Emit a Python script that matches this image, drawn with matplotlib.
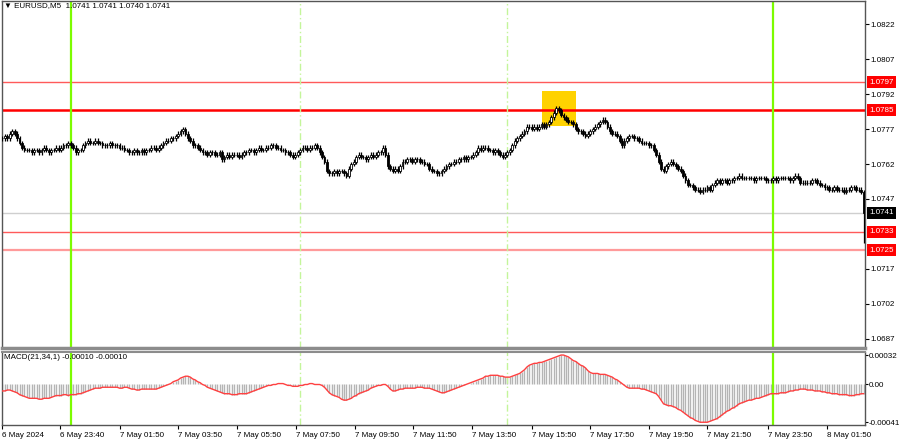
import numpy as np
import matplotlib
matplotlib.use('Agg')
import matplotlib.pyplot as plt
from matplotlib.patches import Rectangle
import matplotlib.transforms as mtransforms


# EURUSD M5 closes in pips above 1.0700, one per bar (6 May 21:40 -> 8 May 03:05)
close_pips = [
    73, 74, 73, 75, 76, 75, 73, 71, 69, 68, 68, 68, 67, 68, 68, 67, 68, 69, 68, 67, 68, 68, 69, 68,
    69, 70, 70, 71, 70, 69, 67, 68, 68, 70, 71, 72, 71, 71, 72, 71, 71, 70, 70, 70, 71, 70, 70, 70,
    69, 69, 68, 68, 67, 67, 68, 67, 67, 68, 67, 68, 68, 69, 69, 68, 69, 70, 71, 72, 72, 73, 73, 74,
    75, 76, 77, 75, 73, 72, 70, 70, 69, 68, 67, 67, 66, 67, 67, 66, 66, 67, 64, 65, 66, 65, 66, 66,
    66, 65, 66, 67, 67, 68, 68, 67, 68, 69, 68, 68, 69, 69, 70, 70, 69, 69, 68, 68, 67, 67, 66, 65,
    66, 67, 68, 69, 69, 68, 69, 69, 70, 69, 67, 65, 63, 59, 58, 58, 59, 58, 59, 59, 58, 57, 60, 62,
    63, 65, 66, 65, 65, 64, 65, 66, 65, 66, 67, 67, 69, 66, 61, 60, 59, 60, 59, 61, 63, 63, 64, 64,
    63, 64, 64, 63, 63, 62, 62, 60, 59, 59, 58, 58, 59, 60, 61, 62, 62, 63, 63, 64, 64, 65, 64, 65,
    65, 66, 67, 69, 68, 69, 69, 68, 68, 67, 68, 67, 66, 65, 66, 67, 68, 70, 72, 73, 74, 75, 76, 78,
    78, 77, 78, 77, 78, 79, 78, 79, 80, 82, 84, 86, 85, 83, 82, 81, 80, 80, 79, 77, 76, 76, 75, 74,
    75, 76, 77, 78, 79, 80, 81, 80, 78, 76, 75, 75, 74, 72, 70, 72, 73, 74, 74, 73, 73, 72, 71, 71,
    71, 70, 70, 68, 66, 63, 60, 59, 61, 62, 63, 62, 61, 60, 59, 57, 55, 53, 53, 52, 51, 51, 50, 51,
    51, 52, 51, 53, 54, 55, 54, 55, 55, 54, 55, 55, 56, 56, 57, 56, 56, 56, 56, 56, 55, 56, 56, 56,
    56, 55, 55, 55, 56, 55, 56, 56, 56, 56, 56, 55, 56, 57, 56, 54, 54, 54, 54, 54, 55, 55, 54, 53,
    53, 52, 52, 51, 51, 52, 51, 51, 51, 50, 51, 51, 52, 52, 51, 51, 50, 41,
]

# MACD(21,34,1) in units of 0.00001, one per bar
macd_e5 = [
    -7, -7, -6, -6, -7, -8, -9, -11, -12, -13, -14, -15, -15, -15, -15, -16, -16, -15, -15, -15, -14, -13, -12, -12,
    -12, -11, -11, -12, -11, -11, -11, -10, -10, -9, -8, -7, -6, -5, -4, -4, -4, -3, -3, -3, -3, -3, -3, -3,
    -4, -4, -3, -3, -4, -5, -5, -6, -6, -5, -5, -5, -5, -5, -5, -5, -4, -3, -2, -1, 0, 1, 3, 4,
    5, 7, 8, 9, 9, 8, 6, 5, 3, 2, 0, -1, -3, -4, -5, -6, -7, -8, -9, -10, -10, -10, -11, -11,
    -11, -10, -10, -10, -10, -9, -8, -7, -6, -5, -4, -3, -2, -1, -1, 0, 0, 1, 1, 1, 0, -1, -1, -2,
    -2, -2, -1, -1, 0, 0, 1, 1, 0, 0, 0, -1, -3, -6, -9, -11, -12, -13, -14, -16, -17, -17, -16, -15,
    -13, -12, -10, -9, -8, -7, -6, -4, -3, -2, -1, -1, 0, 0, -2, -5, -7, -7, -6, -5, -5, -4, -4, -4,
    -4, -4, -3, -3, -3, -4, -4, -4, -5, -6, -7, -8, -9, -9, -8, -7, -6, -5, -4, -3, -2, -1, 0, 1,
    2, 3, 4, 5, 6, 7, 9, 9, 10, 10, 10, 10, 9, 9, 8, 8, 8, 9, 10, 11, 12, 14, 16, 19,
    21, 22, 23, 23, 24, 24, 25, 26, 27, 28, 29, 30, 31, 32, 32, 31, 30, 28, 26, 25, 23, 21, 20, 18,
    15, 13, 12, 12, 12, 11, 11, 11, 10, 9, 8, 6, 5, 3, 1, -1, -3, -4, -4, -4, -4, -4, -5, -5,
    -6, -7, -8, -9, -10, -13, -17, -21, -22, -23, -23, -24, -25, -27, -28, -30, -32, -34, -36, -37, -39, -40, -41, -41,
    -41, -41, -40, -39, -38, -37, -35, -33, -31, -29, -28, -26, -25, -23, -21, -20, -19, -18, -17, -17, -16, -15, -15, -14,
    -13, -12, -11, -10, -10, -10, -10, -9, -9, -9, -8, -7, -7, -6, -6, -5, -5, -5, -6, -6, -6, -7, -7, -7,
    -8, -8, -9, -9, -10, -10, -10, -11, -11, -11, -11, -12, -12, -12, -11, -11, -10, -10,
]

last_low = 1.07282      # long lower wick of the final bar
peak_high = 1.07868     # top of the spike inside the yellow zone

# horizontal levels
level_top = 1.0797
level_main = 1.0785
bid = 1.0741
level_a = 1.0733
level_b = 1.0725

# vertical markers (bar index)
day_lines = [28, 316]
session_lines = [122, 207]

# highlighted zone: bar from, bar to, price low, price high
zone = (221, 235, 1.07783, 1.07933)

price_ticks = [1.0687, 1.0702, 1.0717, 1.0747, 1.0762, 1.0777, 1.0792, 1.0807, 1.0822]
macd_ticks = [0.00032, 0.0, -0.00041]
macd_tick_labels = ['0.00032', '0.00', '-0.00041']
time_pos = [0, 23.5, 48, 72, 96, 120.5, 144.5, 168.5, 192.5, 217, 241, 265, 289, 314, 338]
time_labels = ['6 May 2024', '6 May 23:40', '7 May 01:50', '7 May 03:50', '7 May 05:50',
               '7 May 07:50', '7 May 09:50', '7 May 11:50', '7 May 13:50', '7 May 15:50',
               '7 May 17:50', '7 May 19:50', '7 May 21:50', '7 May 23:50', '8 May 01:50']

FONT = ['Liberation Sans', 'DejaVu Sans']
FS = 5.8
plt.rcParams['font.family'] = FONT

# build OHLC from the closes
close = 1.07 + np.array(close_pips) / 1e4
open_ = np.r_[close[0], close[:-1]]
high = np.maximum(open_, close) + 0.0001
low = np.minimum(open_, close) - 0.0001
low[-1] = last_low
high[int(np.argmax(close))] = peak_high
x = np.arange(len(close))
macd = np.array(macd_e5) / 1e5

W, H = 900, 441
fig = plt.figure(figsize=(W / 100, H / 100), dpi=100)
ax = fig.add_axes([2 / W, 1 - 348 / H, 863 / W, 347 / H])
ax2 = fig.add_axes([2 / W, 1 - 425 / H, 863 / W, 73 / H])

# ---- main price panel ----
ax.add_patch(Rectangle((zone[0], zone[2]), zone[1] - zone[0], zone[3] - zone[2],
                       facecolor='#ffd200', edgecolor='none', zorder=1))

ax.axhline(level_top, color='#ff5a5a', lw=1, zorder=2)
ax.axhline(level_main, color='#ff0000', lw=1.8, zorder=2)
ax.axhline(bid, color='#cfcfcf', lw=1, zorder=2)
ax.axhline(level_a, color='#ff5a5a', lw=1, zorder=2)
ax.axhline(level_b, color='#ff9a9a', lw=1.6, zorder=2)

for a in (ax, ax2):
    for d in day_lines:
        a.axvline(d, color='#7cfc00', lw=1.6, zorder=2)
    for s in session_lines:
        a.axvline(s, color='#c4f59a', lw=1, ls=(0, (5, 2, 1, 2)), zorder=2)

up = close >= open_
ax.vlines(x, low, high, color='black', lw=0.9, zorder=3)
ax.bar(x[up], (close - open_)[up], bottom=open_[up], width=0.75,
       color='white', edgecolor='black', lw=0.6, zorder=4)
ax.bar(x[~up], (close - open_)[~up], bottom=open_[~up], width=0.75,
       color='black', edgecolor='black', lw=0.6, zorder=4)

ax.set_xlim(-0.2, 353.6)
ax.set_ylim(1.06831, 1.08319)
ax.set_xticks([])
ax.yaxis.tick_right()
ax.set_yticks(price_ticks)
ax.set_yticklabels(['%.4f' % p for p in price_ticks])
ax.tick_params(axis='y', direction='out', length=3, width=0.8, labelsize=FS, pad=1, colors='black')

# price tags on the right axis
tag_tr = mtransforms.blended_transform_factory(ax.transAxes, ax.transData)
for val, col in [(level_top, '#ff0000'), (level_main, '#ff0000'), (bid, '#000000'),
                 (level_a, '#ff0000'), (level_b, '#ff0000')]:
    ax.text(1 + 4 / 863, val, '%.4f' % val, transform=tag_tr, ha='left', va='center',
            fontsize=FS, color='white', zorder=10, clip_on=False,
            bbox=dict(boxstyle='square,pad=0.3', fc=col, ec='none'))

for side in ('left', 'top', 'right'):
    ax.spines[side].set_color('#555555')
    ax.spines[side].set_linewidth(1)
ax.spines['bottom'].set_color('#8c8c8c')
ax.spines['bottom'].set_linewidth(2.5)

fig.text(4 / W, 1 - 2.5 / H, '\u25bc EURUSD,M5  1.0741 1.0741 1.0740 1.0741',
         fontsize=FS, va='top', ha='left', family=FONT)

# ---- MACD panel ----
ax2.vlines(x, 0, macd, color='#b4b4b4', lw=1.0, zorder=1)
ax2.plot(x, macd, color='#ff4040', lw=1, zorder=3)
ax2.set_xlim(-0.2, 353.6)
ax2.set_ylim(-0.00044, 0.000353)
ax2.yaxis.tick_right()
ax2.set_yticks(macd_ticks)
ax2.set_yticklabels(macd_tick_labels)
ax2.set_xticks(time_pos)
ax2.set_xticklabels(time_labels, ha='left')
ax2.tick_params(axis='y', direction='out', length=2, width=0.8, labelsize=FS, pad=0.5, colors='black')
ax2.tick_params(axis='x', direction='out', length=3, width=0.8, labelsize=FS, pad=2, colors='black')
for side in ('left', 'bottom', 'right'):
    ax2.spines[side].set_color('#555555')
    ax2.spines[side].set_linewidth(1)
ax2.spines['top'].set_color('#8c8c8c')
ax2.spines['top'].set_linewidth(1.5)

fig.text(4 / W, 1 - 354 / H, 'MACD(21,34,1) -0.00010 -0.00010',
         fontsize=FS, va='top', ha='left', family=FONT)

fig.savefig('out.png', dpi=100)
